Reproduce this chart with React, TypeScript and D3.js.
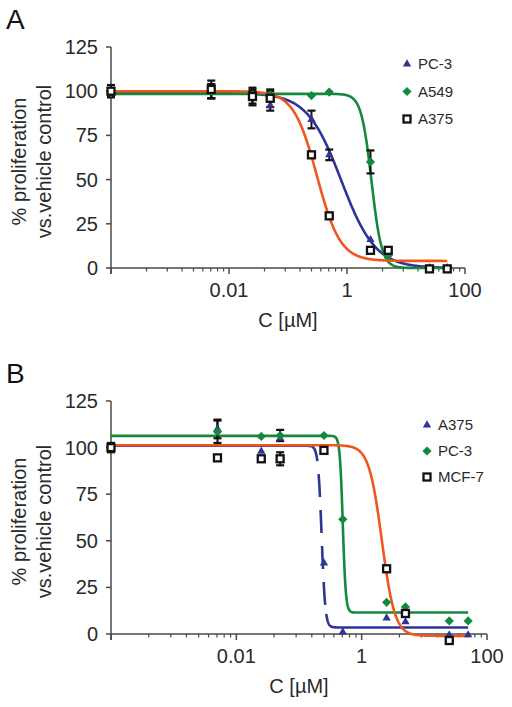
import React from "react";
import * as d3 from "d3";

// ---------- shared axis data ----------
const concentrations = [0.0001, 0.005, 0.025, 0.05, 0.25, 0.5, 2.5, 5, 25, 50];
const yTickValues = [0, 25, 50, 75, 100, 125];
const xMajorTicks = [0.0001, 0.01, 1, 100];
const xTickLabels = ["", "0.01", "1", "100"];
const minorMultipliers = [2, 3, 4, 5, 6, 7, 8, 9];
const curveRange = [0.0001, 50];

// ---------- Panel A data ----------
const aNames = ["PC-3", "A549", "A375"];
const aPC3 = [99, 100, 97, 92, 84, 64, 16, 9, 0, 0];
const aPC3Err = [2, 4, 4, 3, 5, 3, 0, 0, 0, 0];
const aA549 = [99, 100, 98, 98, 97.5, 99.5, 60, 7, 0, 0];
const aA549Err = [2, 4, 2, 2, 0, 0, 6.5, 0, 0, 0];
const aA375 = [100, 101, 97, 96, 64, 29.5, 10, 10, -0.5, -0.5];
const aA375Err = [3.5, 5, 5, 5, 0, 0, 0, 0, 0, 0];
// fit parameters [top, bottom, IC50, hill]
const aFitPC3 = [99, 0, 0.8, 1.5];
const aFitA549 = [98.5, 0, 2.6, 5];
const aFitA375 = [100, 4, 0.31, 2.2];

// ---------- Panel B data ----------
const bNames = ["A375", "PC-3", "MCF-7"];
const bA375 = [100, 110, 98, 105, 38, 1, 8.5, 6.5, -0.5, -0.5];
const bA375Err = [2, 5, 0, 0, 0, 0, 0, 0, 0, 0];
const bPC3 = [100, 108.5, 106, 106.5, 106.5, 61.5, 17, 14.5, 7, 7];
const bPC3Err = [2, 6, 0, 3, 0, 0, 0, 0, 0, 0];
const bMCF7Conc = [0.0001, 0.005, 0.025, 0.05, 0.25, 2.5, 5, 25];
const bMCF7 = [100, 94.5, 94, 94, 98.5, 35, 11, -3.5];
const bMCF7Err = [2.5, 0, 0, 3.5, 0, 0, 0, 0];
const bFitA375 = [101, 3.5, 0.23, 15];
const bFitPC3 = [106.3, 11.5, 0.5, 18];
const bFitMCF7 = [101.3, -1, 2.1, 4.2];
// A375 (B) fit line style: long dashes over the drop, a long solid stretch at the bottom
const bA375DashStart = 0.16;
const bA375DashEnd = 0.262;
const bA375SolidStart = 0.272;

const BLUE = "#2e3596";
const GREEN = "#14893d";
const ORANGE = "#f0561e";
const AXIS = "#4a4a4a";
const TEXT = "#2a2a2a";
const FONT = "'Liberation Sans', Arial, sans-serif";

type Series = {
  name: string;
  x: number[];
  y: number[];
  err: number[];
  fit: number[];
  marker: "triangle" | "diamond" | "square";
  color: string;
  curveColor: string;
  dash?: number[];
};

const logistic = (p: number[], x: number) => p[1] + (p[0] - p[1]) / (1 + Math.pow(x / p[2], p[3]));

const sampleLog = (lo: number, hi: number, n: number) =>
  d3.range(0, n + 1).map((i) => Math.pow(10, Math.log10(lo) + (i / n) * (Math.log10(hi) - Math.log10(lo))));

function Marker({ type, x, y, color }: { type: string; x: number; y: number; color: string }) {
  if (type === "triangle") {
    const p = d3.symbol(d3.symbolTriangle, 30)();
    return <path d={p || ""} transform={`translate(${x},${y})`} fill={color} />;
  }
  if (type === "diamond") {
    const r = 4.6;
    return <path d={`M${x},${y - r}L${x + r},${y}L${x},${y + r}L${x - r},${y}Z`} fill={color} />;
  }
  return <rect x={x - 3.5} y={y - 3.5} width={7} height={7} fill="#fff" stroke="#111" strokeWidth={2.3} />;
}

function Panel({
  label, labelY, x0, x1, yTop, yBottom, series, legendX, legendY, legendStep,
}: {
  label: string; labelY: number; x0: number; x1: number; yTop: number; yBottom: number;
  series: Series[]; legendX: number; legendY: number; legendStep: number;
}) {
  const x = d3.scaleLog().domain([0.0001, 100]).range([x0, x1]);
  const y = d3.scaleLinear().domain([0, 125]).range([yBottom, yTop]);
  const minorVals: number[] = [];
  for (let i = 0; i < xMajorTicks.length - 1; i++) {
    minorMultipliers.forEach((n) => minorVals.push(xMajorTicks[i] * n * n));
  }
  const line = d3.line<number[]>().x((d) => x(d[0])).y((d) => y(d[1])).curve(d3.curveLinear);
  const curvePath = (s: Series, lo: number, hi: number, reverse = false) => {
    const pts = sampleLog(lo, hi, 800).map((c) => [c, logistic(s.fit, c)]);
    if (reverse) pts.reverse();
    return line(pts) || "";
  };
  const midY = (yTop + yBottom) / 2;
  return (
    <g fontFamily={FONT}>
      <text x={6} y={labelY} fontSize={28} fill="#111">{label}</text>
      {/* y axis */}
      <line x1={x0} x2={x0} y1={y(125)} y2={yBottom + 6} stroke={AXIS} strokeWidth={1.5} />
      {yTickValues.map((t) => (
        <g key={t}>
          <line x1={x0 - 5} x2={x0} y1={y(t)} y2={y(t)} stroke={AXIS} strokeWidth={1.5} />
          <text x={98} y={y(t)} dy="0.35em" textAnchor="end" fontSize={20} fill={TEXT}>{t}</text>
        </g>
      ))}
      {/* x axis */}
      <line x1={x0} x2={x1} y1={yBottom} y2={yBottom} stroke={AXIS} strokeWidth={1.5} />
      {minorVals.map((v, i) => (
        <line key={i} x1={x(v)} x2={x(v)} y1={yBottom} y2={yBottom + 3.5} stroke={AXIS} strokeWidth={1.2} />
      ))}
      {xMajorTicks.map((v, i) => (
        <g key={v}>
          <line x1={x(v)} x2={x(v)} y1={yBottom} y2={yBottom + 6} stroke={AXIS} strokeWidth={1.5} />
          <text x={x(v)} y={yBottom + 29} textAnchor="middle" fontSize={20} fill={TEXT}>{xTickLabels[i]}</text>
        </g>
      ))}
      <text x={(x0 + x1) / 2} y={yBottom + 59} textAnchor="middle" fontSize={20} fill={TEXT}>C [µM]</text>
      <text transform={`translate(26,${midY + 4}) rotate(-90)`} textAnchor="middle" fontSize={20} fill={TEXT}>% proliferation</text>
      <text transform={`translate(51,${midY + 4}) rotate(-90)`} textAnchor="middle" fontSize={20} fill={TEXT}>vs.vehicle control</text>
      {/* curves */}
      {series.map((s) =>
        s.dash ? (
          <g key={s.name + "c"} fill="none" stroke={s.curveColor} strokeWidth={2.6}>
            <path d={curvePath(s, curveRange[0], s.dash[0])} />
            <path d={curvePath(s, s.dash[0], s.dash[1], true)} strokeDasharray="23,13" />
            <path d={curvePath(s, s.dash[2], curveRange[1])} />
          </g>
        ) : (
          <path key={s.name + "c"} d={curvePath(s, curveRange[0], curveRange[1])} fill="none"
            stroke={s.curveColor} strokeWidth={2.6} />
        )
      )}
      {/* error bars */}
      {series.map((s) => s.x.map((c, i) => s.err[i] > 0 ? (
        <g key={s.name + "e" + i} stroke="#111">
          <line x1={x(c)} x2={x(c)} y1={y(s.y[i] + s.err[i])} y2={y(s.y[i] - s.err[i])} strokeWidth={2} />
          <line x1={x(c) - 4} x2={x(c) + 4} y1={y(s.y[i] + s.err[i])} y2={y(s.y[i] + s.err[i])} strokeWidth={2.2} />
          <line x1={x(c) - 4} x2={x(c) + 4} y1={y(s.y[i] - s.err[i])} y2={y(s.y[i] - s.err[i])} strokeWidth={2.2} />
        </g>
      ) : null))}
      {/* markers */}
      {series.map((s) => s.x.map((c, i) => (
        <Marker key={s.name + "m" + i} type={s.marker} x={x(c)} y={y(s.y[i])} color={s.color} />
      )))}
      {/* legend */}
      {series.map((s, i) => (
        <g key={s.name + "l"}>
          <Marker type={s.marker} x={legendX} y={legendY + i * legendStep} color={s.color} />
          <text x={legendX + 11} y={legendY + i * legendStep} dy="0.35em" fontSize={15} fill={TEXT}>{s.name}</text>
        </g>
      ))}
    </g>
  );
}

export default function App() {
  const seriesA: Series[] = [
    { name: aNames[0], x: concentrations, y: aPC3, err: aPC3Err, fit: aFitPC3, marker: "triangle", color: BLUE, curveColor: BLUE },
    { name: aNames[1], x: concentrations, y: aA549, err: aA549Err, fit: aFitA549, marker: "diamond", color: GREEN, curveColor: GREEN },
    { name: aNames[2], x: concentrations, y: aA375, err: aA375Err, fit: aFitA375, marker: "square", color: "#111", curveColor: ORANGE },
  ];
  const seriesB: Series[] = [
    { name: bNames[0], x: concentrations, y: bA375, err: bA375Err, fit: bFitA375, marker: "triangle", color: BLUE, curveColor: BLUE,
      dash: [bA375DashStart, bA375DashEnd, bA375SolidStart] },
    { name: bNames[1], x: concentrations, y: bPC3, err: bPC3Err, fit: bFitPC3, marker: "diamond", color: GREEN, curveColor: GREEN },
    { name: bNames[2], x: bMCF7Conc, y: bMCF7, err: bMCF7Err, fit: bFitMCF7, marker: "square", color: "#111", curveColor: ORANGE },
  ];
  return (
    <svg width={512} height={707} style={{ position: "absolute", left: 0, top: 0, background: "#fff" }}>
      <rect width={512} height={707} fill="#fff" />
      <Panel label="A" labelY={29} x0={111} x1={465} yTop={47} yBottom={268} series={seriesA}
        legendX={407} legendY={64} legendStep={27.5} />
      <Panel label="B" labelY={383} x0={111} x1={487} yTop={401} yBottom={634} series={seriesB}
        legendX={427} legendY={425} legendStep={26} />
    </svg>
  );
}
